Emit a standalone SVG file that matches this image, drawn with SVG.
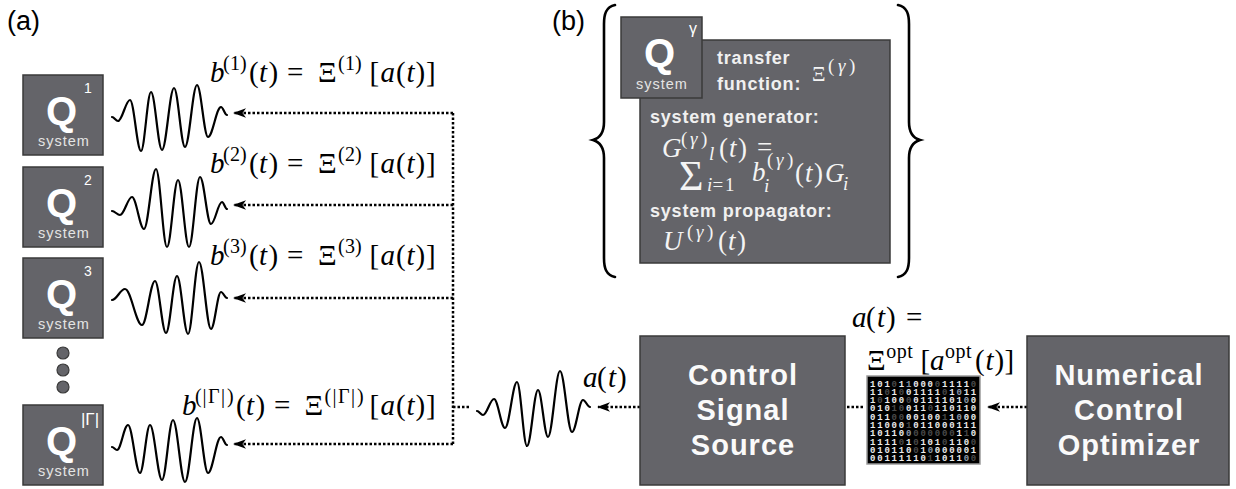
<svg xmlns="http://www.w3.org/2000/svg" width="1236" height="489" viewBox="0 0 1236 489">
<defs>
<marker id="arr" viewBox="0 0 13 10" refX="12" refY="5" markerWidth="13" markerHeight="10" markerUnits="userSpaceOnUse" orient="auto">
<path d="M13,5 L0,0.3 L3.5,5 L0,9.7 Z" fill="#000"/>
</marker>
<style>
.box{fill:#646469;stroke:#3a3a3a;stroke-width:1.5}
.q{font-family:"Liberation Sans",Arial,sans-serif;font-weight:bold;font-size:40px;fill:#fff;text-anchor:middle}
.qs{font-family:"Liberation Sans",Arial,sans-serif;font-size:14px;fill:#fff;text-anchor:middle}
.sys{font-family:"Liberation Sans",Arial,sans-serif;font-size:14.5px;letter-spacing:1px;fill:#e4e4e4;text-anchor:middle}
.big{font-family:"Liberation Sans",Arial,sans-serif;font-weight:bold;font-size:29px;letter-spacing:1px;fill:#fafafa;text-anchor:middle}
.lbl{font-family:"Liberation Sans",Arial,sans-serif;font-weight:bold;font-size:18px;letter-spacing:0.8px;fill:#f0f0f0}
.panel{font-family:"Liberation Sans",Arial,sans-serif;font-size:27px;fill:#000}
.math{font-family:"Liberation Serif","Times New Roman",serif;font-size:29px;fill:#000}
.mw{font-family:"Liberation Serif","Times New Roman",serif;font-size:27px;fill:#f4f4f4}
.i{font-style:italic}
.s{font-size:20px}
.s2{font-size:19px}
.wave{fill:none;stroke:#000;stroke-width:2.2;stroke-linecap:round;stroke-linejoin:round}
.dot{fill:none;stroke:#000;stroke-width:2.5;stroke-dasharray:2.5 2}
.brace{fill:none;stroke:#000;stroke-width:2.6;stroke-linecap:round}
.bits{font-family:"Liberation Mono","Courier New",monospace;font-size:9px;font-weight:bold;letter-spacing:1.8px;fill:#ececec}
.g{fill:#8d9aab}
.d{fill:#4a4a4a}
</style>
</defs>

<!-- panel captions -->
<text class="panel" x="7" y="30">(a)</text>
<text class="panel" x="552" y="30">(b)</text>

<!-- subsystem boxes -->
<g id="q1">
<rect class="box" x="23" y="75" width="80" height="80"/>
<text class="q" x="61.5" y="125">Q</text>
<text class="qs" x="88" y="93">1</text>
<text class="sys" x="64" y="146">system</text>
</g>
<g id="q2">
<rect class="box" x="23" y="167" width="80" height="80"/>
<text class="q" x="61.5" y="217">Q</text>
<text class="qs" x="88" y="185">2</text>
<text class="sys" x="64" y="238">system</text>
</g>
<g id="q3">
<rect class="box" x="23" y="258" width="80" height="80"/>
<text class="q" x="61.5" y="308">Q</text>
<text class="qs" x="88" y="276">3</text>
<text class="sys" x="64" y="329">system</text>
</g>
<g id="ellipsis">
<circle cx="63" cy="353" r="6" fill="#646469" stroke="#3a3a3a" stroke-width="1.2"/>
<circle cx="63" cy="370" r="6" fill="#646469" stroke="#3a3a3a" stroke-width="1.2"/>
<circle cx="63" cy="387" r="6" fill="#646469" stroke="#3a3a3a" stroke-width="1.2"/>
</g>
<g id="qG">
<rect class="box" x="23" y="405" width="80" height="80"/>
<text class="q" x="61.5" y="455">Q</text>
<text class="qs" x="90" y="425" style="font-size:17px">|Γ|</text>
<text class="sys" x="64" y="476">system</text>
</g>

<!-- output signals -->
<g id="signals">
<path class="wave" d="M112,117 C114.2,117 115.8,121 118,121 C122.3,121 125.7,100 130,100 C134,100 137,151 141,151 C144.6,151 147.4,92 151,92 C155,92 158,150 162,150 C166.3,150 169.7,88 174,88 C178,88 181,147 185,147 C189.3,147 192.7,85 197,85 C201,85 204,137 208,137 C212.7,137 216.3,107 221,107 C223.2,107 224.8,115 227,115"/>
<path class="wave" d="M112,211 C114.9,211 117.1,215 120,215 C124.3,215 127.7,197 132,197 C136.3,197 139.7,229 144,229 C148.3,229 151.7,169 156,169 C160,169 163,247 167,247 C171,247 174,180 178,180 C182,180 185,247 189,247 C193,247 196,177 200,177 C204,177 207,224 211,224 C215,224 218,202 222,202 C223.8,202 225.2,209 227,209"/>
<path class="wave" d="M112,300 C116.7,300 120.3,289 125,289 C131.1,289 135.9,325 142,325 C146.7,325 150.3,281 155,281 C159,281 162,333 166,333 C170,333 173,276 177,276 C181,276 184,334 188,334 C192,334 195,262 199,262 C203.3,262 206.7,329 211,329 C214.6,329 217.4,292 221,292 C223.2,292 224.8,298 227,298"/>
<path class="wave" d="M112,447 C113.8,447 115.2,450 117,450 C121,450 124,425 128,425 C132.3,425 135.7,473 140,473 C143.6,473 146.4,425 150,425 C154.3,425 157.7,480 162,480 C166,480 169,420 173,420 C177.3,420 180.7,482 185,482 C189.3,482 192.7,418 197,418 C201,418 204,473 208,473 C212.7,473 216.3,437 221,437 C223.2,437 224.8,445 227,445"/>
<path class="wave" d="M477,411 C479.2,411 480.8,415 483,415 C487,415 490,399 494,399 C498,399 501,428 505,428 C509.3,428 512.7,382 517,382 C520.6,382 523.4,446 527,446 C531,446 534,390 538,390 C541.6,390 544.4,437 548,437 C552.3,437 555.7,371 560,371 C564.3,371 567.7,432 572,432 C576,432 579,400 583,400 C585.5,400 587.5,407 590,407"/>
</g>

<!-- signal equations -->
<g id="equations">
<text class="math" y="82"><tspan class="i" x="210">b</tspan><tspan class="s" x="223 230 240" dy="-12">(1)</tspan><tspan x="249 259 268.5" dy="12">(<tspan class="i">t</tspan>)</tspan><tspan x="287">=</tspan><tspan x="318">Ξ</tspan><tspan class="s" x="338 345 355" dy="-12">(1)</tspan><tspan x="369.5 380.5 396 406.5 415.5 426" dy="12">[<tspan class="i">a</tspan>(<tspan class="i">t</tspan>)]</tspan></text>
<text class="math" y="173"><tspan class="i" x="210">b</tspan><tspan class="s" x="223 230 240" dy="-12">(2)</tspan><tspan x="249 259 268.5" dy="12">(<tspan class="i">t</tspan>)</tspan><tspan x="287">=</tspan><tspan x="318">Ξ</tspan><tspan class="s" x="338 345 355" dy="-12">(2)</tspan><tspan x="369.5 380.5 396 406.5 415.5 426" dy="12">[<tspan class="i">a</tspan>(<tspan class="i">t</tspan>)]</tspan></text>
<text class="math" y="265"><tspan class="i" x="210">b</tspan><tspan class="s" x="223 230 240" dy="-12">(3)</tspan><tspan x="249 259 268.5" dy="12">(<tspan class="i">t</tspan>)</tspan><tspan x="287">=</tspan><tspan x="318">Ξ</tspan><tspan class="s" x="338 345 355" dy="-12">(3)</tspan><tspan x="369.5 380.5 396 406.5 415.5 426" dy="12">[<tspan class="i">a</tspan>(<tspan class="i">t</tspan>)]</tspan></text>
<text class="math" y="415"><tspan class="i" x="182">b</tspan><tspan class="s" x="195 202.4 208 221 227" dy="-12">(|Γ|)</tspan><tspan x="236 246 255.5" dy="12">(<tspan class="i">t</tspan>)</tspan><tspan x="274">=</tspan><tspan x="304.5">Ξ</tspan><tspan class="s" x="324.5 332.4 338 351 357" dy="-12">(|Γ|)</tspan><tspan x="369.5 380.5 396 406.5 415.5 426" dy="12">[<tspan class="i">a</tspan>(<tspan class="i">t</tspan>)]</tspan></text>
<text class="math" y="387" x="583 597 608 617"><tspan class="i">a</tspan>(<tspan class="i">t</tspan>)</text>
<text class="math" y="327"><tspan x="852 866 877 886"><tspan class="i">a</tspan>(<tspan class="i">t</tspan>)</tspan><tspan x="906">=</tspan></text>
<text class="math" y="370"><tspan x="867">Ξ</tspan><tspan class="s" x="886.3 896.8 907.3" dy="-12">opt</tspan><tspan x="920.4 930" dy="12">[<tspan class="i">a</tspan></tspan><tspan class="s" x="945 955.5 966" dy="-12">opt</tspan><tspan x="975 985.5 994.5 1004.5" dy="12">(<tspan class="i">t</tspan>)]</tspan></text>
</g>

<!-- connectors -->
<g id="connectors">
<path class="dot" d="M453,113 V444"/>
<path class="dot" d="M453,113 H234" marker-end="url(#arr)"/>
<path class="dot" d="M453,205 H234" marker-end="url(#arr)"/>
<path class="dot" d="M453,298 H234" marker-end="url(#arr)"/>
<path class="dot" d="M453,444 H234" marker-end="url(#arr)"/>
<path class="dot" d="M453,407 H471"/>
<path class="dot" d="M640,407 H598" marker-end="url(#arr)"/>
<path class="dot" d="M847,407 H865"/>
<path class="dot" d="M1027,407 H988" marker-end="url(#arr)"/>
</g>

<!-- generic subsystem detail -->
<g id="subsystem-detail">
<path class="brace" d="M615,5 C606,7 604,14 604,24 L604,122 C604,132 600,138 593,140 C600,142 604,148 604,158 L604,258 C604,268 606,275 615,277"/>
<path class="brace" d="M898,5 C907,7 909,14 909,24 L909,122 C909,132 913,138 920,140 C913,142 909,148 909,158 L909,258 C909,268 907,275 898,277"/>
<rect class="box" x="640" y="40" width="250" height="223"/>
<text class="lbl" x="717" y="64">transfer</text>
<text class="lbl" x="717" y="90">function:</text>
<text class="mw" y="81"><tspan x="812" style="font-size:21px">Ξ</tspan><tspan class="s2" x="828 838 849" dy="-9">(<tspan class="i">γ</tspan>)</tspan></text>
<text class="lbl" x="650" y="123">system generator:</text>
<text class="mw" y="157"><tspan class="i" x="662">G</tspan><tspan class="s2" x="681 690 701" dy="-12">(<tspan class="i">γ</tspan>)</tspan><tspan x="719 729 738" dy="12">(<tspan class="i">t</tspan>)</tspan></text>
<text class="mw" x="757" y="156">=</text>
<text class="mw" x="679" y="190" style="font-size:42px">Σ</text>
<text class="mw i s2" x="709" y="160">l</text>
<text class="mw s2" x="707 712.5 725" y="191"><tspan class="i">i</tspan>=1</text>
<text class="mw i" x="752" y="181">b</text>
<text class="mw i s2" x="764" y="192">i</text>
<text class="mw s2" x="767 776 787" y="166">(<tspan class="i">γ</tspan>)</text>
<text class="mw" x="795 805 814 825" y="182">(<tspan class="i">t</tspan>)<tspan class="i">G</tspan></text>
<text class="mw i s2" x="843" y="190">i</text>
<text class="lbl" x="650" y="217">system propagator:</text>
<text class="mw" y="250"><tspan class="i" x="663">U</tspan><tspan class="s2" x="687 696 707" dy="-12">(<tspan class="i">γ</tspan>)</tspan><tspan x="718 728 737" dy="12">(<tspan class="i">t</tspan>)</tspan></text>
</g>
<g id="qgamma">
<rect class="box" x="621" y="17" width="81" height="81"/>
<text class="q" x="659.5" y="67">Q</text>
<text class="qs" x="693" y="34" style="font-size:16px">γ</text>
<text class="sys" x="662" y="89">system</text>
</g>

<!-- control chain -->
<g id="control-source">
<rect class="box" x="640" y="336" width="205" height="149"/>
<text class="big" x="743" y="385">Control</text>
<text class="big" x="743" y="420">Signal</text>
<text class="big" x="743" y="455">Source</text>
</g>
<g id="optimizer">
<rect class="box" x="1027" y="336" width="202" height="149"/>
<text class="big" x="1129" y="385">Numerical</text>
<text class="big" x="1129" y="420">Control</text>
<text class="big" x="1129" y="455">Optimizer</text>
</g>
<g id="bitmap">
<rect x="867" y="376" width="113" height="88" fill="#000" stroke="#9a9a9a" stroke-width="1.5"/>
<text class="bits" x="870" y="386.5">101<tspan class="d">0</tspan>1<tspan class="g">1</tspan>000<tspan class="d">0</tspan>1111<tspan class="d">0</tspan></text>
<text class="bits" x="870" y="394.8">11<tspan class="d">0</tspan>1<tspan class="d">0</tspan>01111<tspan class="d">0</tspan>1<tspan class="g">0</tspan>11</text>
<text class="bits" x="870" y="403.1">1<tspan class="d">0</tspan>100<tspan class="d">0</tspan>0111101<tspan class="g">0</tspan>0</text>
<text class="bits" x="870" y="411.4">010<tspan class="d">10</tspan>011<tspan class="d">0</tspan>110110</text>
<text class="bits" x="870" y="419.7">011<tspan class="d">00</tspan>00100<tspan class="d">1</tspan>1<tspan class="g">0</tspan>00</text>
<text class="bits" x="870" y="428">11000<tspan class="d">1</tspan>011000111</text>
<text class="bits" x="870" y="436.3">10110<tspan class="g">0</tspan><tspan class="d">000000</tspan>1<tspan class="d">1</tspan>0</text>
<text class="bits" x="870" y="444.6">1111<tspan class="d">0</tspan>1<tspan class="d">0</tspan>101<tspan class="d">0</tspan>110<tspan class="d">0</tspan></text>
<text class="bits" x="870" y="452.9">010110<tspan class="d">0</tspan>1<tspan class="g">0</tspan>000001</text>
<text class="bits" x="870" y="461.2">00111110<tspan class="d">1</tspan>1011<tspan class="g">0</tspan><tspan class="d">0</tspan></text>
</g>
</svg>
